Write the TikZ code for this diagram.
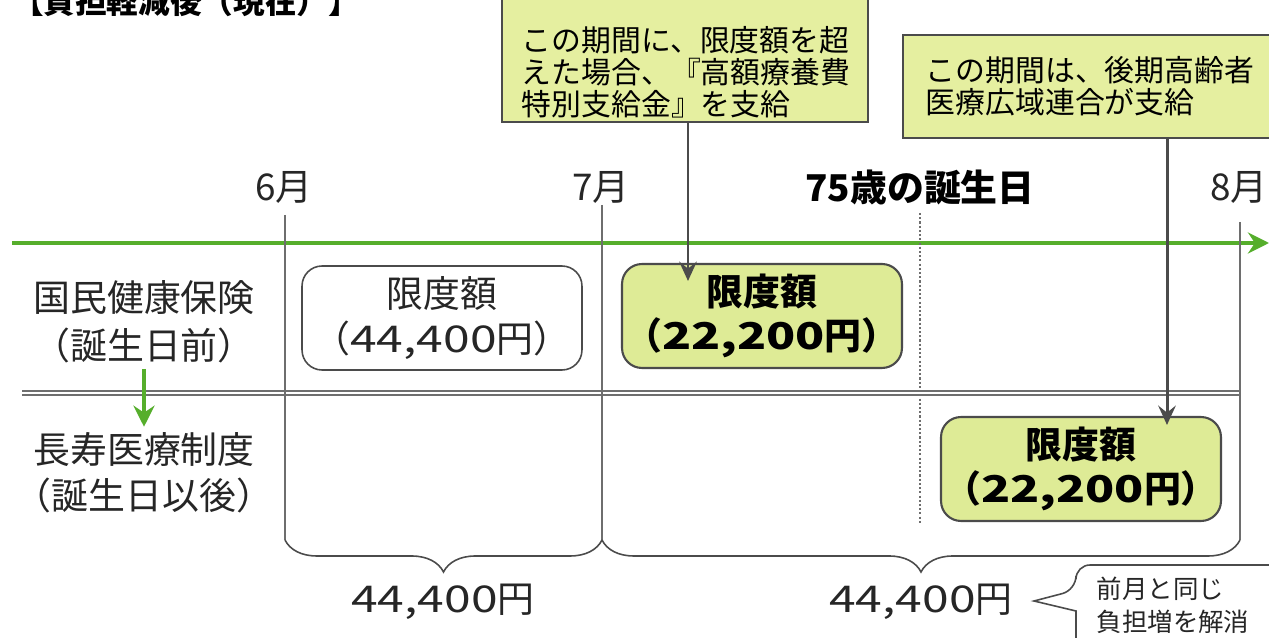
\documentclass[tikz,border=0pt]{standalone}
\usepackage{fontspec}
\setmainfont{Noto Sans CJK JP}
\newfontfamily\widedigits{Noto Sans CJK JP}[FakeStretch=1.3]
\usetikzlibrary{arrows.meta,positioning,fit,calc,decorations.pathreplacing}
\definecolor{linegreen}{RGB}{86,174,44}
\definecolor{boxgreen}{RGB}{222,235,150}
\definecolor{notegreen}{RGB}{229,239,160}
\definecolor{darkline}{RGB}{75,75,75}
\definecolor{tickgray}{RGB}{110,110,110}

\begin{document}
\begin{tikzpicture}[x=0.02cm, y=-0.02cm,
    big/.style={font=\fontsize{21}{26}\selectfont, text=black!85},
    boldbig/.style={font=\fontsize{21}{26}\selectfont\bfseries},
    notetext/.style={font=\fontsize{17}{18.2}\selectfont, align=left, inner sep=0pt},
    notebox/.style={draw=darkline, line width=1pt, fill=notegreen, inner sep=0pt},
    limitbox/.style={draw=darkline, line width=0.9pt, rounded corners=0.4cm, inner xsep=1pt, minimum width=5.6cm, minimum height=2.08cm, align=center, font=\fontsize{21}{25.5}\selectfont, text=black!85},
    limitgreen/.style={limitbox, fill=boxgreen, line width=1.2pt, font=\fontsize{21}{25}\selectfont\bfseries, text=black},
    monthline/.style={draw=tickgray, line width=1.1pt},
    pointer/.style={draw=darkline, line width=1.7pt, -{Stealth[length=11pt, width=10pt, inset=4pt]}},
    greenarrow/.style={draw=linegreen, line width=2.6pt, -{Stealth[length=12pt, width=12pt, inset=4pt]}},
    costbrace/.style={draw=darkline, line width=0.9pt, decorate, decoration={brace, mirror, amplitude=0.64cm}}
  ]
  \useasboundingbox (0,0) rectangle (1269,638);
  \clip (0,0) rectangle (1269,638);

  % title
  \node[font=\fontsize{18}{20}\selectfont\bfseries] (title) at (186,1) {【負担軽減後（現在）】};

  % callouts
  \node[notebox, fit={(502,-20) (868,122)}] (callA) {};
  \node[notetext] (callAtext) at (686,72) {この期間に、限度額を超\\えた場合、『高額療養費\\特別支給金』を支給};
  \node[notebox, fit={(903,35) (1290,138)}] (callB) {};
  \node[notetext] (callBtext) at (1090,86) {この期間は、後期高齢者\\医療広域連合が支給};

  % months
  \node[big] (m6) at (284,187) {6月};
  \node[big] (m7) at (601,187) {7月};
  \node[boldbig] (bday) at (920,187) {75歳の誕生日};
  \node[big] (m8) at (1239,187) {8月};

  % time axis and rows
  \coordinate (tl0) at (12,243);
  \coordinate (tl1) at (1269,243);
  \draw[greenarrow] (tl0) -- (tl1);
  \draw[draw=tickgray, line width=0.8pt, double=white, double distance=1.5pt] (22,393) -- (1240,393);

  \coordinate (b6) at (285,540);
  \coordinate (b7) at (602,540);
  \coordinate (b8) at (1240,540);
  \draw[monthline] (285,215) -- (b6);
  \draw[monthline] (602,205) -- (b7);
  \draw[monthline] (1240,222) -- (b8);
  \draw[monthline, line width=0.9pt, dash pattern=on 1.2pt off 1.2pt] (920,213) -- (920,525);

  \node[big] (nhi) at (144,298) {国民健康保険};
  \node[big] (nhiwhen) at (144,345) {（誕生日前）};
  \node[big] (elder) at (144,450) {長寿医療制度};
  \node[big] (elderwhen) at (144,495) {（誕生日以後）};
  \draw[greenarrow, line width=2pt] (nhiwhen.south) -- (elder.north);

  % limits
  \node[limitbox, fill=white] (limA) at (442,318) {限度額\\（{\widedigits 44,400}円）};
  \node[limitgreen] (limB) at (762,316) {限度額\\（{\widedigits 22,200}円）};
  \node[limitgreen] (limC) at (1081,469) {限度額\\（{\widedigits 22,200}円）};

  \coordinate (pA) at (688,0);
  \coordinate (pB) at (1167,0);
  \draw[pointer] (callA.south -| pA) -- ($(limB.north -| pA)+(0,18)$);
  \draw[pointer] (callB.south -| pB) -- ($(limC.north -| pB)+(0,9)$);

  % totals
  \draw[costbrace] (b6) -- (b7);
  \draw[costbrace] (b7) -- (b8);
  \node[big] (costA) at (443,602) {{\widedigits 44,400}円};
  \node[big] (costB) at (921,602) {{\widedigits 44,400}円};

  \draw[draw=darkline, line width=0.9pt, fill=white] (1300,565) [rounded corners=0.28cm] -- (1076,565) -- (1076,590) [sharp corners] -- (1034,601) -- (1076,611) -- (1076,660);
  \node[font=\fontsize{14.5}{19}\selectfont, align=left, text=black!85] (note) at (1173,605) {前月と同じ\\負担増を解消};
\end{tikzpicture}
\end{document}
